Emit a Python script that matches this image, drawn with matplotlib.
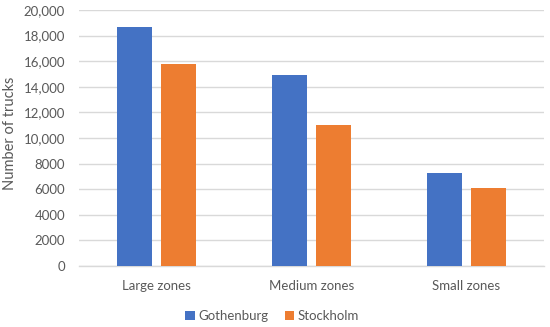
import numpy as np
import matplotlib.pyplot as plt

plt.rcParams['font.family'] = ["Lato", "DejaVu Sans"]

zones = ["Large zones", "Medium zones", "Small zones"]
gothenburg = [18700, 14950, 7300]
stockholm = [15800, 11000, 6100]
yticks = [0, 2000, 4000, 6000, 8000, 10000, 12000, 14000, 16000, 18000, 20000]
ytick_labels = ["0", "2000", "4000", "6000", "8000", "10,000", "12,000",
                "14,000", "16,000", "18,000", "20,000"]

txt = "#595959"
grid_c = "#d9d9d9"

fig = plt.figure(figsize=(5.5, 3.27), dpi=100)
ax = fig.add_axes([79 / 550, 1 - 266 / 327, 465 / 550, 256 / 327])

x = np.arange(len(zones))
w = 0.226
off = 0.142
ax.bar(x - off, gothenburg, w, color="#4472C4", label="Gothenburg", zorder=3)
ax.bar(x + off, stockholm, w, color="#ED7D31", label="Stockholm", zorder=3)

ax.set_xlim(-0.5, 2.5)
ax.set_ylim(0, 20000)
ax.set_yticks(yticks)
ax.set_yticklabels(ytick_labels)
ax.set_xticks(x)
ax.set_xticklabels(zones)
ax.tick_params(axis="both", length=0, colors=txt, labelsize=9.5)
ax.tick_params(axis="y", pad=10)
ax.tick_params(axis="x", pad=10)
ax.grid(axis="y", color=grid_c, lw=1, zorder=0)
for s in ["top", "right", "left"]:
    ax.spines[s].set_visible(False)
ax.spines["bottom"].set_color(grid_c)
ax.spines["bottom"].set_linewidth(1)
ax.set_ylabel("Number of trucks", color=txt, fontsize=10.5, labelpad=4)
ax.yaxis.set_label_coords(-0.133, 0.52)

fig.legend(*ax.get_legend_handles_labels(), loc="center",
           bbox_to_anchor=(0.495, 1 - 316 / 327), ncol=2, frameon=False,
           fontsize=9.5, labelcolor=txt, handlelength=0.7, handleheight=0.7,
           handletextpad=0.3, columnspacing=1.2)

fig.savefig("out.png", dpi=100)
